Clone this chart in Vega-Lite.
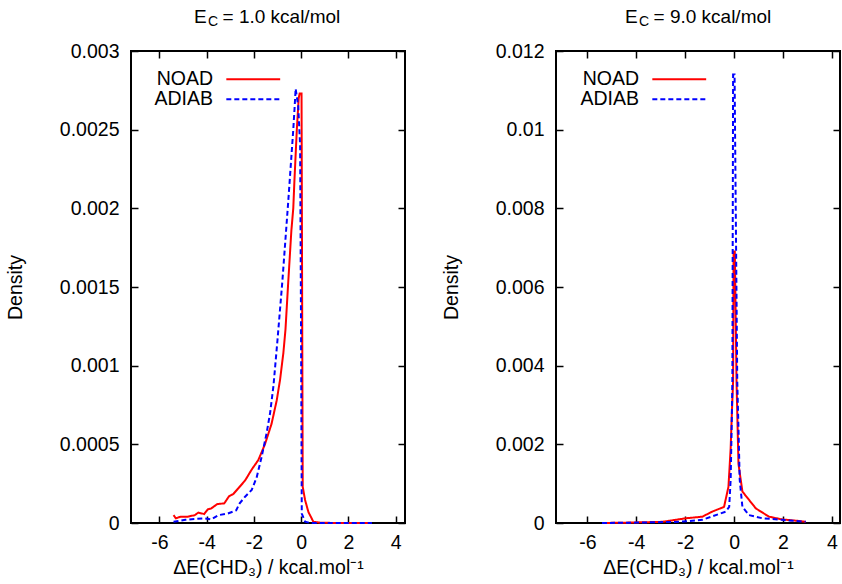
{
  "$schema": "https://vega.github.io/schema/vega-lite/v6.json",
  "padding": {"left": 4, "top": 7, "right": 0, "bottom": 0},
  "bounds": "flush",
  "spacing": 151,
  "config": {
    "font": "Liberation Sans",
    "view": {"stroke": "#000000", "strokeWidth": 2},
    "axis": {"domain": false, "grid": false, "tickColor": "#000000", "tickWidth": 1.5, "tickSize": 7, "offset": -7, "labelFontSize": 19.5, "labelColor": "#000000", "titleFontSize": 19.5, "titleFontWeight": "normal", "titleColor": "#000000", "labelFont": "Liberation Sans", "titleFont": "Liberation Sans"},
    "title": {"fontSize": 19, "fontWeight": "normal", "color": "#000000", "font": "Liberation Sans", "subtitleFont": "Liberation Sans", "subtitleFontSize": 14, "subtitleColor": "#000000", "subtitlePadding": -12, "anchor": "start", "frame": "group", "offset": 12}
  },
  "datasets": {
    "left": [
      {"series": "NOAD", "x": -5.4, "y": 0.00005},
      {"series": "NOAD", "x": -5.3, "y": 0.00003},
      {"series": "NOAD", "x": -5.1, "y": 0.00004},
      {"series": "NOAD", "x": -4.8, "y": 0.00004},
      {"series": "NOAD", "x": -4.5, "y": 0.00005},
      {"series": "NOAD", "x": -4.35, "y": 0.000066},
      {"series": "NOAD", "x": -4.1, "y": 0.000057},
      {"series": "NOAD", "x": -3.95, "y": 0.000087},
      {"series": "NOAD", "x": -3.8, "y": 0.000093},
      {"series": "NOAD", "x": -3.55, "y": 0.00012},
      {"series": "NOAD", "x": -3.25, "y": 0.000125},
      {"series": "NOAD", "x": -3.05, "y": 0.00017},
      {"series": "NOAD", "x": -2.87, "y": 0.000184},
      {"series": "NOAD", "x": -2.66, "y": 0.00022},
      {"series": "NOAD", "x": -2.37, "y": 0.00027},
      {"series": "NOAD", "x": -2.09, "y": 0.00034},
      {"series": "NOAD", "x": -1.81, "y": 0.0004},
      {"series": "NOAD", "x": -1.53, "y": 0.0005},
      {"series": "NOAD", "x": -1.25, "y": 0.00063},
      {"series": "NOAD", "x": -1.03, "y": 0.00078},
      {"series": "NOAD", "x": -0.89, "y": 0.00091},
      {"series": "NOAD", "x": -0.75, "y": 0.00108},
      {"series": "NOAD", "x": -0.66, "y": 0.00123},
      {"series": "NOAD", "x": -0.54, "y": 0.00154},
      {"series": "NOAD", "x": -0.41, "y": 0.00186},
      {"series": "NOAD", "x": -0.33, "y": 0.002},
      {"series": "NOAD", "x": -0.28, "y": 0.00218},
      {"series": "NOAD", "x": -0.18, "y": 0.0025},
      {"series": "NOAD", "x": -0.1, "y": 0.0027},
      {"series": "NOAD", "x": -0.06, "y": 0.00273},
      {"series": "NOAD", "x": 0.02, "y": 0.00273},
      {"series": "NOAD", "x": 0.05, "y": 0.0012},
      {"series": "NOAD", "x": 0.07, "y": 0.00023},
      {"series": "NOAD", "x": 0.17, "y": 0.000146},
      {"series": "NOAD", "x": 0.31, "y": 0.00007},
      {"series": "NOAD", "x": 0.52, "y": 0.000008},
      {"series": "NOAD", "x": 0.8, "y": 0.000002},
      {"series": "NOAD", "x": 1.5, "y": 0},
      {"series": "NOAD", "x": 2.9, "y": 0},
      {"series": "ADIAB", "x": -5.4, "y": 0.000008},
      {"series": "ADIAB", "x": -4.9, "y": 0.00002},
      {"series": "ADIAB", "x": -4.1, "y": 0.00003},
      {"series": "ADIAB", "x": -3.8, "y": 0.000023},
      {"series": "ADIAB", "x": -3.5, "y": 0.00005},
      {"series": "ADIAB", "x": -3.1, "y": 0.00006},
      {"series": "ADIAB", "x": -2.75, "y": 0.00008},
      {"series": "ADIAB", "x": -2.6, "y": 0.000125},
      {"series": "ADIAB", "x": -2.37, "y": 0.000167},
      {"series": "ADIAB", "x": -2.09, "y": 0.00021},
      {"series": "ADIAB", "x": -1.88, "y": 0.00029},
      {"series": "ADIAB", "x": -1.67, "y": 0.00042},
      {"series": "ADIAB", "x": -1.46, "y": 0.00057},
      {"series": "ADIAB", "x": -1.31, "y": 0.0007},
      {"series": "ADIAB", "x": -1.17, "y": 0.00087},
      {"series": "ADIAB", "x": -1.0, "y": 0.00116},
      {"series": "ADIAB", "x": -0.79, "y": 0.00154},
      {"series": "ADIAB", "x": -0.54, "y": 0.00205},
      {"series": "ADIAB", "x": -0.33, "y": 0.0025},
      {"series": "ADIAB", "x": -0.27, "y": 0.00265},
      {"series": "ADIAB", "x": -0.23, "y": 0.00276},
      {"series": "ADIAB", "x": -0.12, "y": 0.00265},
      {"series": "ADIAB", "x": -0.04, "y": 0.0024},
      {"series": "ADIAB", "x": 0.0, "y": 0.0012},
      {"series": "ADIAB", "x": 0.03, "y": 0.00006},
      {"series": "ADIAB", "x": 0.17, "y": 0.000008},
      {"series": "ADIAB", "x": 0.4, "y": 0},
      {"series": "ADIAB", "x": 3.0, "y": 0}
    ],
    "right": [
      {"series": "NOAD", "x": -5.4, "y": 0},
      {"series": "NOAD", "x": -4.3, "y": 0.00001},
      {"series": "NOAD", "x": -2.93, "y": 0.00003},
      {"series": "NOAD", "x": -1.97, "y": 0.00012},
      {"series": "NOAD", "x": -1.3, "y": 0.00016},
      {"series": "NOAD", "x": -0.89, "y": 0.00029},
      {"series": "NOAD", "x": -0.41, "y": 0.00041},
      {"series": "NOAD", "x": -0.23, "y": 0.00092},
      {"series": "NOAD", "x": -0.14, "y": 0.0019},
      {"series": "NOAD", "x": -0.09, "y": 0.0028},
      {"series": "NOAD", "x": -0.04, "y": 0.0036},
      {"series": "NOAD", "x": -0.02, "y": 0.0069},
      {"series": "NOAD", "x": 0.03, "y": 0.0069},
      {"series": "NOAD", "x": 0.1, "y": 0.0036},
      {"series": "NOAD", "x": 0.13, "y": 0.0028},
      {"series": "NOAD", "x": 0.18, "y": 0.0015},
      {"series": "NOAD", "x": 0.34, "y": 0.0008},
      {"series": "NOAD", "x": 0.89, "y": 0.00037},
      {"series": "NOAD", "x": 1.43, "y": 0.00016},
      {"series": "NOAD", "x": 1.97, "y": 0.00009},
      {"series": "NOAD", "x": 2.52, "y": 0.00006},
      {"series": "NOAD", "x": 2.93, "y": 0.00003},
      {"series": "ADIAB", "x": -5.4, "y": 0},
      {"series": "ADIAB", "x": -4.0, "y": 0.00001},
      {"series": "ADIAB", "x": -2.25, "y": 0.00003},
      {"series": "ADIAB", "x": -1.3, "y": 0.00008},
      {"series": "ADIAB", "x": -0.34, "y": 0.00029},
      {"series": "ADIAB", "x": -0.2, "y": 0.00041},
      {"series": "ADIAB", "x": -0.14, "y": 0.0011},
      {"series": "ADIAB", "x": -0.1, "y": 0.0024},
      {"series": "ADIAB", "x": -0.07, "y": 0.0036},
      {"series": "ADIAB", "x": -0.04, "y": 0.0114},
      {"series": "ADIAB", "x": 0.02, "y": 0.0114},
      {"series": "ADIAB", "x": 0.13, "y": 0.0036},
      {"series": "ADIAB", "x": 0.18, "y": 0.0024},
      {"series": "ADIAB", "x": 0.23, "y": 0.0011},
      {"series": "ADIAB", "x": 0.34, "y": 0.00041},
      {"series": "ADIAB", "x": 0.61, "y": 0.0002},
      {"series": "ADIAB", "x": 1.16, "y": 0.00012},
      {"series": "ADIAB", "x": 1.97, "y": 0.00008},
      {"series": "ADIAB", "x": 2.93, "y": 0.00003}
    ]
  },
  "resolve": {"scale": {"color": "independent", "strokeDash": "independent"}},
  "hconcat": [
    {
      "width": 274,
      "height": 472,
      "data": {"name": "left"},
      "title": {"text": "E\u2007 = 1.0 kcal/mol", "subtitle": "\u200b\u2003C", "dx": 63},
      "layer": [
        {
          "mark": {"type": "line", "strokeWidth": 2},
          "encoding": {
            "x": {"field": "x", "type": "quantitative", "scale": {"domain": [-7.2, 4.4], "nice": false, "zero": false}, "axis": {"orient": "bottom", "values": [-6, -4, -2, 0, 2, 4], "labelExpr": "'' + datum.value", "labelPadding": 10, "title": "ΔE(CHD₃) / kcal.mol⁻¹", "titlePadding": 7}},
            "y": {"field": "y", "type": "quantitative", "scale": {"domain": [0, 0.003], "nice": false}, "axis": {"orient": "left", "values": [0, 0.0005, 0.001, 0.0015, 0.002, 0.0025, 0.003], "labelExpr": "'' + datum.value", "labelPadding": 12, "title": "Density", "titlePadding": 34}},
            "color": {"field": "series", "type": "nominal", "scale": {"domain": ["NOAD", "ADIAB"], "range": ["#ff0000", "#0000ff"]}, "legend": {"orient": "none", "legendX": 112.5, "legendY": 18.5, "title": null, "symbolType": "M-5,0H5", "symbolSize": 116, "symbolStrokeWidth": 2, "labelAlign": "right", "labelOffset": -50, "labelFontSize": 19.5, "labelColor": "#000000", "rowPadding": -5.5, "padding": 0}},
            "strokeDash": {"field": "series", "type": "nominal", "scale": {"domain": ["NOAD", "ADIAB"], "range": [[1, 0], [5, 3]]}, "legend": {"orient": "none", "legendX": 112.5, "legendY": 18.5, "title": null, "symbolType": "M-5,0H5", "symbolSize": 116, "symbolStrokeWidth": 2, "labelAlign": "right", "labelOffset": -50, "labelFontSize": 19.5, "labelColor": "#000000", "rowPadding": -5.5, "padding": 0}}
          }
        },
        {
          "mark": {"type": "point", "opacity": 0},
          "encoding": {
            "x": {"field": "x", "type": "quantitative", "axis": {"orient": "top", "values": [-6, -4, -2, 0, 2, 4], "labels": false, "title": null}},
            "y": {"field": "y", "type": "quantitative", "axis": {"orient": "right", "values": [0, 0.0005, 0.001, 0.0015, 0.002, 0.0025, 0.003], "labels": false, "title": null}}
          }
        }
      ]
    },
    {
      "width": 284,
      "height": 472,
      "data": {"name": "right"},
      "title": {"text": "E\u2007 = 9.0 kcal/mol", "subtitle": "\u200b\u2003C", "dx": 69},
      "layer": [
        {
          "mark": {"type": "line", "strokeWidth": 2},
          "encoding": {
            "x": {"field": "x", "type": "quantitative", "scale": {"domain": [-7.28, 4.33], "nice": false, "zero": false}, "axis": {"orient": "bottom", "values": [-6, -4, -2, 0, 2, 4], "labelExpr": "'' + datum.value", "labelPadding": 10, "title": "ΔE(CHD₃) / kcal.mol⁻¹", "titlePadding": 7}},
            "y": {"field": "y", "type": "quantitative", "scale": {"domain": [0, 0.012], "nice": false}, "axis": {"orient": "left", "values": [0, 0.002, 0.004, 0.006, 0.008, 0.01, 0.012], "labelExpr": "'' + datum.value", "labelPadding": 12, "title": "Density", "titlePadding": 34}},
            "color": {"field": "series", "type": "nominal", "scale": {"domain": ["NOAD", "ADIAB"], "range": ["#ff0000", "#0000ff"]}, "legend": {"orient": "none", "legendX": 113.5, "legendY": 18.5, "title": null, "symbolType": "M-5,0H5", "symbolSize": 116, "symbolStrokeWidth": 2, "labelAlign": "right", "labelOffset": -50, "labelFontSize": 19.5, "labelColor": "#000000", "rowPadding": -5.5, "padding": 0}},
            "strokeDash": {"field": "series", "type": "nominal", "scale": {"domain": ["NOAD", "ADIAB"], "range": [[1, 0], [5, 3]]}, "legend": {"orient": "none", "legendX": 113.5, "legendY": 18.5, "title": null, "symbolType": "M-5,0H5", "symbolSize": 116, "symbolStrokeWidth": 2, "labelAlign": "right", "labelOffset": -50, "labelFontSize": 19.5, "labelColor": "#000000", "rowPadding": -5.5, "padding": 0}}
          }
        },
        {
          "mark": {"type": "point", "opacity": 0},
          "encoding": {
            "x": {"field": "x", "type": "quantitative", "axis": {"orient": "top", "values": [-6, -4, -2, 0, 2, 4], "labels": false, "title": null}},
            "y": {"field": "y", "type": "quantitative", "axis": {"orient": "right", "values": [0, 0.002, 0.004, 0.006, 0.008, 0.01, 0.012], "labels": false, "title": null}}
          }
        }
      ]
    }
  ]
}
